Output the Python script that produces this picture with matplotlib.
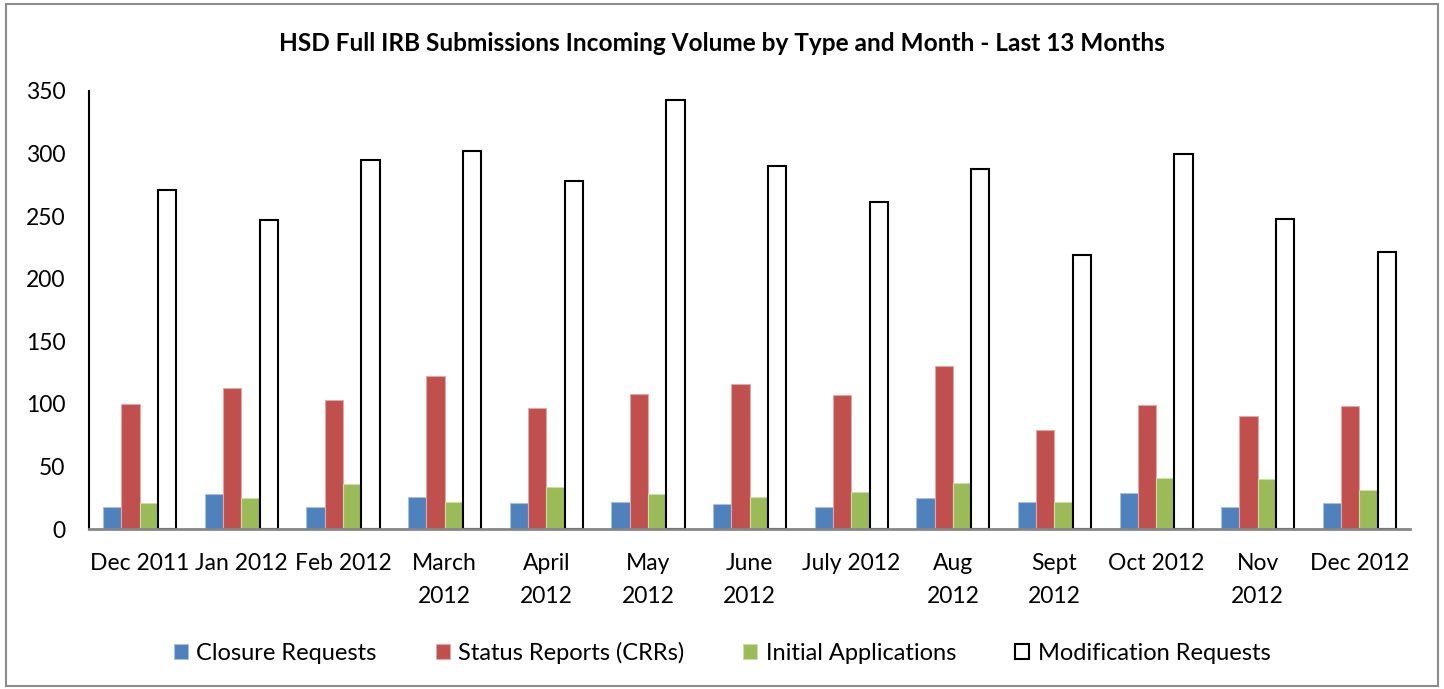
import matplotlib.pyplot as plt
import numpy as np
from matplotlib.patches import Rectangle

months = ['Dec 2011', 'Jan 2012', 'Feb 2012', 'March\n2012', 'April\n2012', 'May\n2012',
          'June\n2012', 'July 2012', 'Aug\n2012', 'Sept\n2012', 'Oct 2012', 'Nov\n2012', 'Dec 2012']
closure = [18, 28, 18, 26, 21, 22, 20, 18, 25, 22, 29, 18, 21]
status = [100, 113, 103, 122, 97, 108, 116, 107, 130, 79, 99, 90, 98]
initial = [21, 25, 36, 22, 34, 28, 26, 30, 37, 22, 41, 40, 31]
modification = [271, 247, 295, 302, 278, 343, 290, 261, 288, 219, 300, 248, 221]

plt.rcParams['font.family'] = ['Lato', 'DejaVu Sans']

fig = plt.figure(figsize=(14.44, 6.89), dpi=100)
fig.patches.append(Rectangle((0.004, 0.004), 0.992, 0.99, transform=fig.transFigure,
                             fill=False, edgecolor='#8c8c8c', linewidth=1.5))
ax = fig.add_axes([0.0616, 0.232, 0.915, 0.636])

x = np.arange(len(months))
w = 0.18
ax.bar(x - 1.5 * w, closure, w, color='#4f81bd', edgecolor='#a7c0de', linewidth=0.8, label='Closure Requests')
ax.bar(x - 0.5 * w, status, w, color='#c0504d', edgecolor='#e0a8a6', linewidth=0.8, label='Status Reports (CRRs)')
ax.bar(x + 0.5 * w, initial, w, color='#9bbb59', edgecolor='#cddcac', linewidth=0.8, label='Initial Applications')
# grey shadow under white bars
ax.bar(x + 1.5 * w + 0.004, modification, w, bottom=-2, color='#b0b0b0', edgecolor='none', zorder=1)
ax.bar(x + 1.5 * w, modification, w, color='white', edgecolor='black', linewidth=1.5,
       label='Modification Requests', zorder=2)

ax.set_xlim(-0.5, 12.5)
ax.set_ylim(0, 350)
ax.set_yticks(range(0, 351, 50))
ax.set_xticks(x)
ax.set_xticklabels(months, fontsize=16.5, linespacing=1.72, va='top')
ax.tick_params(axis='y', labelsize=16.5, length=0, pad=17)
ax.tick_params(axis='x', length=0, pad=17)
for s in ['top', 'right']:
    ax.spines[s].set_visible(False)
ax.spines['left'].set_color('black')
ax.spines['left'].set_linewidth(1.5)
ax.spines['bottom'].set_color('#868686')
ax.spines['bottom'].set_linewidth(2)

fig.text(0.5, 0.937, 'HSD Full IRB Submissions Incoming Volume by Type and Month - Last 13 Months',
         ha='center', va='center', fontsize=17.6, fontweight='bold')

fig.legend(loc='center', bbox_to_anchor=(0.5, 0.052), ncol=4, frameon=False, fontsize=17,
           handlelength=0.6, handleheight=0.6, columnspacing=2.5, handletextpad=0.35)

fig.savefig('out.png', dpi=100)
